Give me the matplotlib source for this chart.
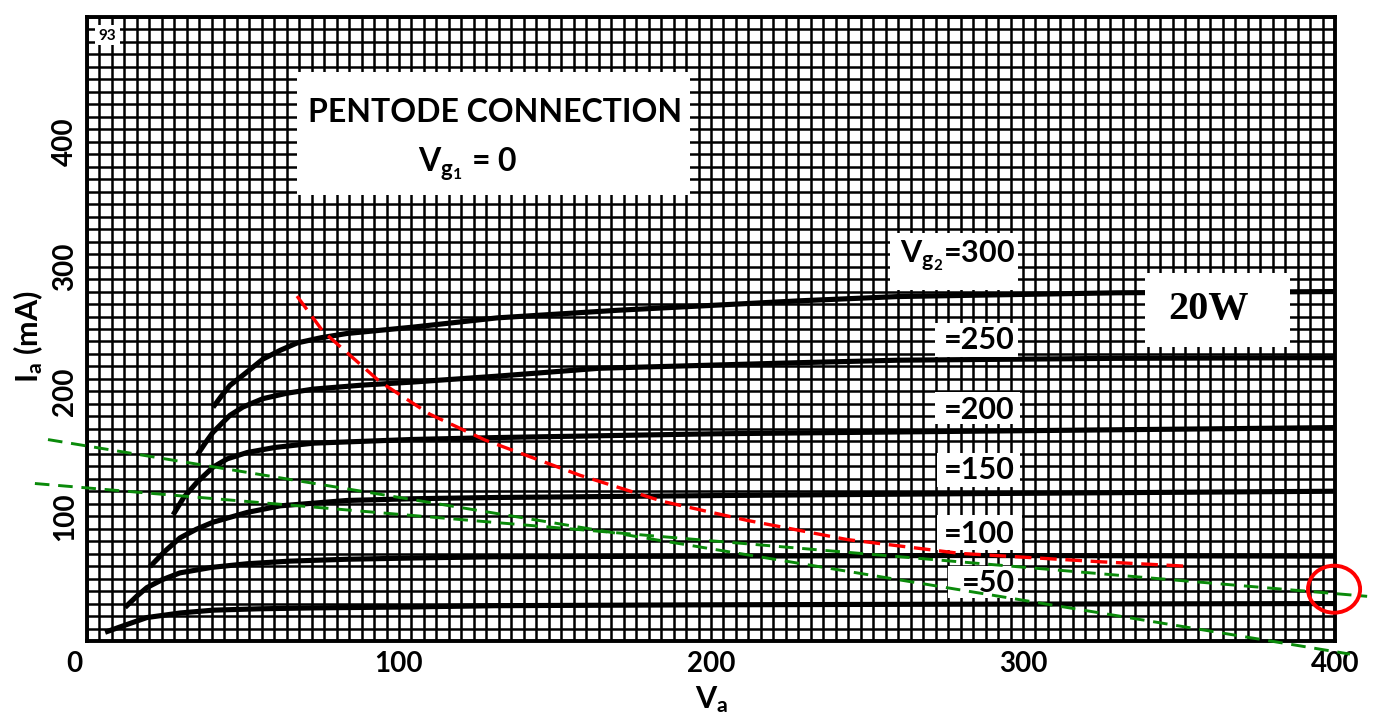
import numpy as np
import matplotlib
matplotlib.use('Agg')
import matplotlib.pyplot as plt
from matplotlib.patches import Rectangle, Ellipse
from matplotlib.transforms import blended_transform_factory

plt.rcParams['font.family'] = ['Lato', 'DejaVu Sans']
plt.rcParams['font.weight'] = 'bold'
plt.rcParams['mathtext.fontset'] = 'custom'
plt.rcParams['mathtext.rm'] = 'Lato:bold'
plt.rcParams['mathtext.it'] = 'Lato:bold'
plt.rcParams['mathtext.bf'] = 'Lato:bold'

W, H = 1375, 722

# Ia-Va curves (pentode connection, Vg1 = 0), one per screen voltage
va_50 = [5.8, 12, 19.2, 30, 40.4, 55, 72.4, 104.5, 131, 200, 280, 400]
ia_50 = [7.0, 12.5, 18.8, 22.5, 24.7, 25.8, 26.5, 27.3, 28.3, 29, 29.5, 30]

va_100 = [12.2, 16, 19.2, 24, 29.8, 40, 51.3, 65, 83.3, 104.5, 131, 200, 280, 400]
ia_100 = [26.9, 36, 42.8, 49, 54.6, 59, 61.9, 64, 65.5, 66.5, 67.5, 68, 68.5, 68]

va_150 = [20.2, 25, 29.8, 35, 40.4, 51.3, 61.9, 83.3, 104.5, 131, 200, 280, 400]
ia_150 = [59.6, 72, 82.6, 89.5, 95.2, 103, 108.3, 112.6, 114, 115, 116.5, 118, 120]

va_200 = [27.6, 31, 35.3, 40.4, 45, 51.3, 60, 72.4, 104.5, 131, 200, 280, 400]
ia_200 = [101.1, 115, 127.3, 139.3, 146, 151, 155, 158.5, 161.5, 163, 166, 168, 171]

va_250 = [35.3, 38, 40.4, 45.8, 50, 56.4, 64, 72.4, 88, 104.5, 131.4, 164, 228, 260, 330, 400]
ia_250 = [148.9, 159, 167.3, 180.8, 187.5, 194.2, 198.5, 201.8, 205, 207.5, 212.2, 218.5, 223, 225, 226.5, 227]

va_300 = [40.4, 43, 45.8, 50, 56.4, 62, 67.3, 75, 83.3, 104.5, 131.4, 170, 228.5, 260, 330, 400]
ia_300 = [187.3, 196, 204.8, 213, 225.9, 233, 238.8, 243, 246.4, 251.5, 258.9, 265, 272.6, 276, 279, 280]

curves = [(va_50, ia_50), (va_100, ia_100), (va_150, ia_150),
          (va_200, ia_200), (va_250, ia_250), (va_300, ia_300)]

# 20 W dissipation curve (hand drawn, red)
va_20w = [67.3, 75.6, 93.9, 109.9, 127.6, 158, 184.6, 211.5, 243.6, 279.8, 324.7, 353.5]
ia_20w = [276.4, 248.2, 207.7, 181.7, 161.0, 132.8, 111.8, 96.7, 81.3, 70.2, 63.5, 59.8]

# load lines (green)
va_load1 = [-12.5, 404.8]
ia_load1 = [161.4, -10.5]
va_load2 = [-16.7, 410.3]
ia_load2 = [126.2, 35.8]

# marked operating point
op_va, op_ia = 399.7, 41.5

xticks = [0, 100, 200, 300, 400]
yticks = [100, 200, 300, 400]


def fpos(px, py):
    return px / W, 1 - py / H


fig = plt.figure(figsize=(W / 100, H / 100), dpi=100)
ax = fig.add_axes([87 / W, 1 - 641 / H, 1248 / W, 624 / H])
ax.set_xlim(0, 400)
ax.set_ylim(0, 500)

ax.set_xticks(np.arange(0, 401, 4))
ax.set_yticks(np.arange(0, 501, 10))
ax.grid(True, color='black', lw=1.8, zorder=0)
ax.tick_params(length=0, labelbottom=False, labelleft=False)
for s in ax.spines.values():
    s.set_linewidth(2.8)
    s.set_zorder(3)

for va, ia in curves:
    ax.plot(va, ia, color='black', lw=3.7, solid_capstyle='butt', zorder=2)

# white label boxes on the grid (pixel rectangles: x0, y0, x1, y1)
boxes = [(297, 72, 690, 195), (890, 233, 1018, 290), (935, 323, 1018, 357),
         (935, 392, 1020, 424), (937, 453, 1020, 487), (937, 515, 1022, 550),
         (948, 566, 1018, 598), (1145, 273, 1290, 347), (95, 25, 120, 45)]
for x0, y0, x1, y1 in boxes:
    fx, fy = fpos(x0, y1)
    ax.add_patch(Rectangle((fx, fy), (x1 - x0) / W, (y1 - y0) / H, transform=fig.transFigure,
                           facecolor='white', edgecolor='none', zorder=4, clip_on=False))

tf = fig.transFigure
ax.text(*fpos(495, 122), 'PENTODE CONNECTION', transform=tf, fontsize=23,
        ha='center', va='baseline', zorder=5)
ax.text(*fpos(468, 172), r'V$_{\mathrm{g_1}}$ = 0', transform=tf, fontsize=23,
        ha='center', va='baseline', zorder=5)

labels = [(r'V$_{\mathrm{g_2}}$=300', 263), ('=250', 349), ('=200', 419),
          ('=150', 479), ('=100', 543), ('=50', 592)]
for txt, py in labels:
    ax.text(*fpos(1015, py), txt, transform=tf, fontsize=22, ha='right', va='baseline', zorder=5)

ax.text(*fpos(1208, 309), '20W', transform=tf, fontsize=29, fontweight='bold',
        family='Liberation Serif', ha='center', va='center', zorder=5)
ax.text(*fpos(107, 36), '93', transform=tf, fontsize=11, ha='center', va='center', zorder=5)

# axis numbers and titles
bx = blended_transform_factory(ax.transData, fig.transFigure)
for v in xticks:
    xv = v - 4 if v == 0 else v
    ax.text(xv, 1 - 664 / H, str(v), transform=bx, fontsize=20, ha='center', va='center')
by = blended_transform_factory(fig.transFigure, ax.transData)
for v in yticks:
    ax.text(65 / W, v, str(v), transform=by, fontsize=20, rotation=90, ha='center', va='center')

ax.text(*fpos(712, 700), r'V$_{\mathrm{a}}$', transform=tf, fontsize=22, ha='center', va='center')
ax.text(*fpos(28, 337), r'I$_{\mathrm{a}}$ (mA)', transform=tf, fontsize=22, rotation=90,
        ha='center', va='center')

# red 20W curve, green load lines, red circle
ax.plot(va_20w, ia_20w, color='red', lw=2.4, dashes=(5, 2.6), zorder=6, clip_on=False)
ax.plot(va_load1, ia_load1, color='#0a8a0a', lw=2.1, dashes=(5, 3), zorder=6, clip_on=False)
ax.plot(va_load2, ia_load2, color='#0a8a0a', lw=2.1, dashes=(5, 3), zorder=6, clip_on=False)
ax.add_patch(Ellipse((op_va, op_ia), 16.7, 37.7, facecolor='none', edgecolor='red',
                     lw=2.8, zorder=7, clip_on=False))

fig.savefig('out.png', dpi=100)
